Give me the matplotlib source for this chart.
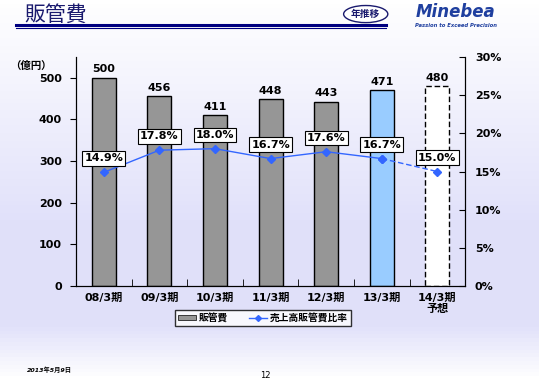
import numpy as np
import matplotlib.pyplot as plt
from matplotlib.patches import Ellipse, Patch
from matplotlib.lines import Line2D

plt.rcParams['font.family'] = ['DejaVu Sans', 'Noto Sans CJK JP']

periods = ["08/3期", "09/3期", "10/3期", "11/3期", "12/3期", "13/3期", "14/3期\n予想"]
sga = [500, 456, 411, 448, 443, 471, 480]
ratio = [14.9, 17.8, 18.0, 16.7, 17.6, 16.7, 15.0]
bar_colors = ["#969696"] * 5 + ["#99CCFF", "white"]

fig = plt.figure(figsize=(5.39, 3.80), dpi=100)

# background gradient
bg = fig.add_axes([0, 0, 1, 1], zorder=-10)
grad = np.concatenate([np.linspace(0, 1, 60), np.ones(25), np.linspace(1, 0, 15)])
top = np.array([1.0, 1.0, 1.0])
low = np.array([0.88, 0.88, 0.98])
img = top + grad[:, None] * (low - top)
bg.imshow(img[:, None, :], aspect="auto", extent=[0, 1, 0, 1])
bg.set_xlim(0, 1)
bg.set_ylim(0, 1)
bg.axis("off")

# header
fig.text(0.046, 0.96, "販管費", fontsize=15, color="#1a1a6e", ha="left", va="center",
         family="Noto Sans CJK JP")
fig.add_artist(Line2D([0.03, 0.716], [0.935, 0.935], color="#000080", lw=2.2))
fig.add_artist(Line2D([0.03, 0.716], [0.927, 0.927], color="#000080", lw=0.8))
fig.add_artist(Ellipse((0.6785, 0.963), 0.082, 0.045, facecolor="white",
                       edgecolor="#1a1a6e", lw=1))
fig.text(0.6785, 0.963, "年推移", fontsize=7, fontweight="bold", color="#1a1a6e",
         ha="center", va="center", family="Noto Sans CJK JP")
fig.text(0.846, 0.968, "Minebea", fontsize=12, fontweight="bold", fontstyle="italic",
         color="#1f3f9f", ha="center", va="center")
fig.text(0.846, 0.932, "Passion to Exceed Precision", fontsize=3.8, fontweight="bold",
         fontstyle="italic", color="#1f3f9f", ha="center", va="center")

ax = fig.add_axes([0.141, 0.247, 0.722, 0.603])
ax.patch.set_alpha(0)
x = np.arange(len(periods))
bars = ax.bar(x, sga, width=0.43, color=bar_colors, edgecolor="black", lw=1, zorder=2)
bars[-1].set_linestyle((0, (4, 2)))
for xi, v in zip(x, sga):
    ax.text(xi, v + 8, str(v), ha="center", va="bottom", fontsize=8, fontweight="bold")

ax.set_xlim(-0.5, len(periods) - 0.5)
ax.set_ylim(0, 550)
ax.set_yticks(range(0, 501, 100))
ax.set_xticks(x)
ax.set_xticklabels(periods, fontsize=8, fontweight="bold", linespacing=1.1)
ax.set_xticks(np.arange(0.5, len(periods) - 1, 1), minor=True)
ax.tick_params(axis="x", which="major", length=0, pad=5)
ax.tick_params(axis="x", which="minor", direction="in", length=5)
ax.tick_params(axis="y", direction="out", length=4, labelsize=8, pad=6)
for lab in ax.get_yticklabels():
    lab.set_fontweight("bold")
ax.spines["top"].set_visible(False)
ax.text(-0.115, 0.985, "（億円）", transform=ax.transAxes, ha="center", va="top",
        fontsize=7.5, fontweight="bold", family="Noto Sans CJK JP")

ax2 = ax.twinx()
ax2.set_ylim(0, 30)
ax2.set_yticks(range(0, 31, 5))
ax2.set_yticklabels([f"{t}%" for t in range(0, 31, 5)])
ax2.tick_params(axis="y", direction="in", length=4, labelsize=8, pad=7)
for lab in ax2.get_yticklabels():
    lab.set_fontweight("bold")
ax2.spines["top"].set_visible(False)

line_color = "#3366FF"
ax2.plot(x[:6], ratio[:6], color=line_color, lw=1, marker="D", ms=4, zorder=3)
ax2.plot(x[5:], ratio[5:], color=line_color, lw=1, ls=(0, (4, 2)), marker="D", ms=4, zorder=3)
for xi, r in zip(x, ratio):
    ax2.annotate(f"{r:.1f}%", (xi, r), xytext=(0, 10), textcoords="offset points",
                 ha="center", va="center", fontsize=8, fontweight="bold",
                 bbox=dict(boxstyle="square,pad=0.2", fc="white", ec="black", lw=0.8),
                 zorder=4)

handles = [Patch(facecolor="#969696", edgecolor="black", lw=0.5),
           Line2D([], [], color=line_color, marker="D", ms=3, lw=1)]
leg = fig.legend(handles, ["販管費", "売上高販管費比率"], loc="center",
                 bbox_to_anchor=(0.488, 0.163), ncol=2, frameon=True, fancybox=False,
                 edgecolor="black", fontsize=7, handlelength=1.8, handleheight=0.3,
                 borderpad=0.3, columnspacing=2.2, handletextpad=0.3)
leg.get_frame().set_linewidth(1)
for t in leg.get_texts():
    t.set_fontweight("bold")

fig.text(0.05, 0.026, "2013年5月9日", fontsize=4.5, fontstyle="italic", fontweight="bold",
         ha="left", va="center")
fig.text(0.492, 0.013, "12", fontsize=6, ha="center", va="center")

fig.savefig("out.png", dpi=100)
